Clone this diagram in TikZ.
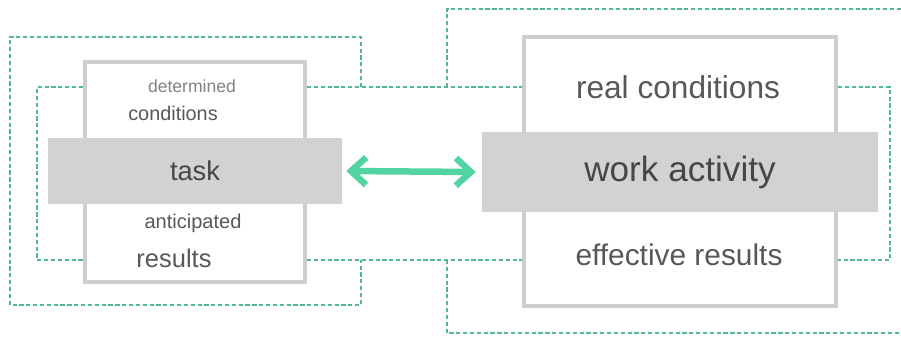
\documentclass[tikz,border=0pt]{standalone}
\usepackage{fontspec}
\setmainfont{Liberation Sans}
\usetikzlibrary{arrows.meta}
\definecolor{boxgray}{RGB}{206,206,206}
\definecolor{bandgray}{RGB}{210,210,210}
\definecolor{textgray}{RGB}{88,88,88}
\definecolor{loopgreen}{RGB}{80,184,146}
\definecolor{arrowgreen}{RGB}{82,212,162}
\begin{document}
\begin{tikzpicture}[x=0.02cm,y=-0.02cm,
        frame box/.style={rectangle,draw=boxgray,line width=0.08cm,fill=white,inner sep=0pt},
        band/.style={rectangle,fill=bandgray,inner sep=0pt,text=textgray!80!black},
        small text/.style={text=textgray,inner sep=0pt},
        loop line/.style={draw=loopgreen,line width=0.05cm,dash pattern=on 2.4pt off 1.5pt},
        link/.style={draw=arrowgreen,line width=0.13cm,{Straight Barb[length=0.3cm,width=0.55cm]}-{Straight Barb[length=0.3cm,width=0.55cm]}}]
        \useasboundingbox (0,0) rectangle (901,336);
        % boxes
        \node[frame box, minimum width=4.4cm, minimum height=4.42cm] (taskbox) at (195,172) {};
        \node[frame box, minimum width=6.24cm, minimum height=5.38cm] (activitybox) at (680,171.5) {};
        \node[band, minimum width=5.88cm, minimum height=1.32cm, font=\fontsize{15.5}{18}\selectfont] (task) at (195,171) {task};
        \node[band, minimum width=7.92cm, minimum height=1.6cm, font=\fontsize{20}{24}\selectfont] (activity) at (680,172) {work activity};
        % texts
        \node[small text, text=textgray!75, font=\fontsize{10}{12}\selectfont] (determined) at (192,86) {determined};
        \node[small text, font=\fontsize{11.3}{13}\selectfont] (conditions) at (173,113) {conditions};
        \node[small text, font=\fontsize{11.4}{13}\selectfont] (anticipated) at (193,223) {anticipated};
        \node[small text, font=\fontsize{14.5}{17}\selectfont] (results) at (174,258) {results};
        \node[small text, font=\fontsize{18}{21}\selectfont] (real) at (678,87) {real conditions};
        \node[small text, font=\fontsize{17}{20}\selectfont] (effective) at (679,255) {effective results};
        % lanes and corners
        \coordinate (top lane) at (0,87);
        \coordinate (bottom lane) at (0,260);
        \coordinate (inner left) at (37,260);
        \coordinate (right turn) at (890,260);
        \coordinate (top exit) at (901,9);
        \coordinate (bottom exit) at (901,333);
        \path[loop line]
        (taskbox.west |- top lane) -| (inner left) -- (taskbox.west |- bottom lane)
        (taskbox.east |- top lane) -- (activitybox.west |- top lane)
        (taskbox.east |- bottom lane) -- (activitybox.west |- bottom lane)
        (activitybox.east |- top lane) -| (right turn) -- (activitybox.east |- bottom lane)
        (361,87) -- (361,37) -- (10,37) -- (10,305) -- (361,305) -- (361,260)
        (447,87) |- (top exit)
        (447,260) |- (bottom exit)
        ;
        \draw[link] ([xshift=0.08cm]task.east) -- ([xshift=-0.12cm]activity.west);
        \end{tikzpicture}
\end{document}
